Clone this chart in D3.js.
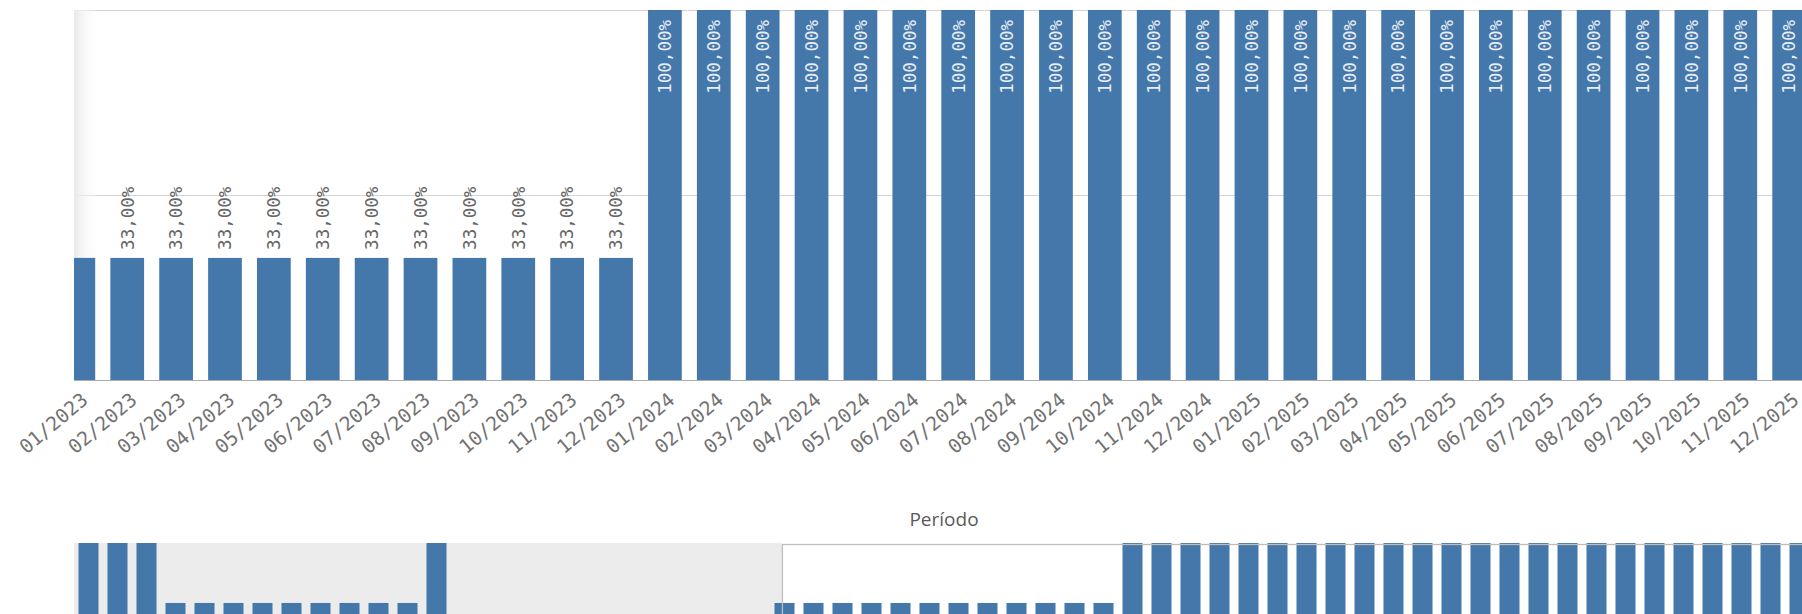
<!DOCTYPE html>
<html>
<head>
<meta charset="utf-8">
<script src="https://cdn.jsdelivr.net/npm/d3@7"></script>
<style>
  html, body { margin: 0; padding: 0; background: #ffffff; }
  svg { display: block; }
</style>
</head>
<body>
<svg id="chart" width="1802" height="614"></svg>
<script>
// Monthly periods shown in the main view
const periods = [
  "01/2023","02/2023","03/2023","04/2023","05/2023","06/2023",
  "07/2023","08/2023","09/2023","10/2023","11/2023","12/2023",
  "01/2024","02/2024","03/2024","04/2024","05/2024","06/2024",
  "07/2024","08/2024","09/2024","10/2024","11/2024","12/2024",
  "01/2025","02/2025","03/2025","04/2025","05/2025","06/2025",
  "07/2025","08/2025","09/2025","10/2025","11/2025","12/2025"
];
const values = [
  0.33,0.33,0.33,0.33,0.33,0.33,0.33,0.33,0.33,0.33,0.33,0.33,
  1.00,1.00,1.00,1.00,1.00,1.00,1.00,1.00,1.00,1.00,1.00,1.00,
  1.00,1.00,1.00,1.00,1.00,1.00,1.00,1.00,1.00,1.00,1.00,1.00
];
const gridTicks = [0.5, 1.0];

// Full period range for the scroll overview (null = no data that month)
const overviewPeriods = [
  "01/2021","02/2021","03/2021","04/2021","05/2021","06/2021",
  "07/2021","08/2021","09/2021","10/2021","11/2021","12/2021",
  "01/2022","02/2022","03/2022","04/2022","05/2022","06/2022",
  "07/2022","08/2022","09/2022","10/2022","11/2022","12/2022",
  ...periods
];
const overviewValues = [
  1.00,1.00,1.00,0.33,0.33,0.33,0.33,0.33,0.33,0.33,0.33,0.33,
  1.00,null,null,null,null,null,null,null,null,null,null,null,
  0.33,0.33,0.33,0.33,0.33,0.33,0.33,0.33,0.33,0.33,0.33,0.33,
  1.00,1.00,1.00,1.00,1.00,1.00,1.00,1.00,1.00,1.00,1.00,1.00,
  1.00,1.00,1.00,1.00,1.00,1.00,1.00,1.00,1.00,1.00,1.00,1.00
];
const axisTitle = "Período";

const BAR = "#4477aa";
const W = 1802, H = 614;
const plotLeft = 74, plotTop = 10, plotBottom = 380;

const svg = d3.select("#chart");
const ptBR = d3.formatLocale({ decimal: ",", thousands: ".", grouping: [3], currency: ["R$", ""] });
const pct = ptBR.format(".2%");

// ---- main chart scales (view scrolled slightly into the first month) ----
const x = d3.scaleBand().domain(periods).range([53.9, 1813.6]).paddingInner(0.31).paddingOuter(0.155);
const y = d3.scaleLinear().domain([0, 1]).range([plotBottom, plotTop]);

const defs = svg.append("defs");
defs.append("clipPath").attr("id", "plotClip")
  .append("rect").attr("x", plotLeft).attr("y", 0).attr("width", W - plotLeft).attr("height", plotBottom + 1);
const shade = defs.append("linearGradient").attr("id", "scrollShade").attr("x1", 0).attr("x2", 1).attr("y1", 0).attr("y2", 0);
shade.append("stop").attr("offset", 0).attr("stop-color", "#e9e9e9").attr("stop-opacity", 1);
shade.append("stop").attr("offset", 1).attr("stop-color", "#ffffff").attr("stop-opacity", 0);

const plot = svg.append("g").attr("clip-path", "url(#plotClip)");

// gridlines
plot.selectAll("line.grid").data(gridTicks).join("line")
  .attr("class", "grid")
  .attr("x1", plotLeft).attr("x2", W)
  .attr("y1", d => Math.round(y(d)) + 0.5).attr("y2", d => Math.round(y(d)) + 0.5)
  .attr("stroke", "#d4d4d4").attr("stroke-width", 1.2);

// scroll shadow at the left edge
plot.append("rect")
  .attr("x", plotLeft).attr("y", plotTop).attr("width", 26).attr("height", plotBottom - plotTop)
  .attr("fill", "url(#scrollShade)");

// bars
plot.selectAll("rect.bar").data(periods).join("rect")
  .attr("class", "bar")
  .attr("x", d => x(d)).attr("width", x.bandwidth())
  .attr("y", (d, i) => y(values[i])).attr("height", (d, i) => y(0) - y(values[i]))
  .attr("fill", BAR);

// baseline
plot.append("line")
  .attr("x1", plotLeft).attr("x2", W)
  .attr("y1", plotBottom + 0.5).attr("y2", plotBottom + 0.5)
  .attr("stroke", "#ababab").attr("stroke-width", 1.2);

// value labels (inside the bar when there is room, above it otherwise);
// bars cut by the left edge of the view get no label
const labelFont = "'DejaVu Sans Mono', monospace";
const labelled = periods.filter(d => x(d) >= plotLeft);
plot.selectAll("text.val").data(labelled).join("text")
  .attr("class", "val")
  .attr("transform", d => {
    const i = periods.indexOf(d);
    const cx = x(d) + x.bandwidth() / 2;
    const inside = values[i] >= 0.6;
    const yy = inside ? y(values[i]) + 10 : y(values[i]) - 8;
    return `translate(${cx},${yy}) rotate(-90)`;
  })
  .attr("dy", "0.36em")
  .attr("text-anchor", d => values[periods.indexOf(d)] >= 0.6 ? "end" : "start")
  .attr("font-family", labelFont)
  .attr("font-size", "17.5px")
  .attr("fill", d => values[periods.indexOf(d)] >= 0.6 ? "#e6edf5" : "#656565")
  .text(d => pct(values[periods.indexOf(d)]));

// category axis labels
const xAxis = d3.axisBottom(x).tickSize(0).tickPadding(0);
const axisG = svg.append("g").attr("transform", `translate(0,${plotBottom})`).call(xAxis);
axisG.select(".domain").remove();
axisG.selectAll(".tick text")
  .attr("font-family", labelFont)
  .attr("font-size", "19.5px")
  .attr("fill", "#727272")
  .attr("text-anchor", "end")
  .attr("y", 0).attr("dy", 0)
  .attr("transform", "translate(11,22) rotate(-40)");

// axis title
svg.append("text")
  .attr("x", 944).attr("y", 526)
  .attr("text-anchor", "middle")
  .attr("font-family", "'Open Sans', sans-serif")
  .attr("font-size", "19px")
  .attr("fill", "#5a5a5a")
  .text(axisTitle);

// ---- scroll overview ----
const navTop = 543;
const mx = d3.scaleBand().domain(overviewPeriods).range([74, 1814]).paddingInner(0.31).paddingOuter(0.155);
const my = d3.scaleLinear().domain([0, 1]).range([632.5, navTop]);

defs.append("clipPath").attr("id", "navClip")
  .append("rect").attr("x", 74).attr("y", navTop).attr("width", W - 74).attr("height", H - navTop);
const nav = svg.append("g").attr("clip-path", "url(#navClip)");

// visible window, derived from how far the main view is scrolled
const firstIdx = overviewPeriods.indexOf(periods[0]);
const scrolled = (plotLeft - x.range()[0]) / x.step();
const winX = mx.range()[0] + (firstIdx + scrolled) * mx.step();

nav.append("rect").attr("x", 74).attr("y", navTop).attr("width", W - 74).attr("height", H - navTop).attr("fill", "#ececec");
nav.append("rect").attr("x", winX).attr("y", navTop).attr("width", W - winX + 20).attr("height", H - navTop + 20).attr("fill", "#ffffff");

const navData = overviewPeriods.map((p, i) => ({ p, v: overviewValues[i] })).filter(d => d.v !== null);
nav.selectAll("rect.nbar").data(navData).join("rect")
  .attr("class", "nbar")
  .attr("x", d => mx(d.p)).attr("width", mx.bandwidth())
  .attr("y", d => my(d.v)).attr("height", d => my(0) - my(d.v))
  .attr("fill", BAR);

nav.append("rect")
  .attr("x", winX + 0.5).attr("y", navTop + 1.5).attr("width", W - winX + 20).attr("height", H - navTop + 20)
  .attr("fill", "none").attr("stroke", "#bdbdbd").attr("stroke-width", 1.3);
</script>
</body>
</html>
